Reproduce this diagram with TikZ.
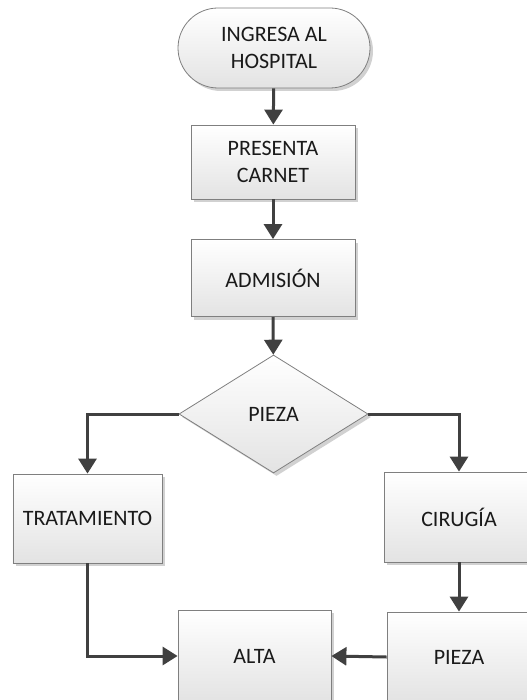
\documentclass[tikz,border=0pt]{standalone}
\usepackage{fontspec}
\setmainfont{Carlito}
\usepackage{tikz}
\usetikzlibrary{shapes.geometric,shapes.misc,shadows,arrows.meta}
\definecolor{linea}{HTML}{404040}
\definecolor{borde}{HTML}{7F7F7F}
\definecolor{texto}{HTML}{1A1A1A}

\begin{document}
\begin{tikzpicture}[x=1bp,y=-1bp,
  caja/.style={shape=rectangle,draw=borde,line width=0.8bp,top color=white,bottom color=black!11,
    drop shadow={shadow xshift=3bp,shadow yshift=-3bp,fill=black!18,opacity=1},
    text=texto,align=center,inner sep=0pt,
    font=\fontsize{22bp}{27bp}\selectfont},
  flecha/.style={draw=linea,line width=3bp,-{Triangle[width=18bp,length=15bp]}}]
\useasboundingbox (0,0) rectangle (527,700);
%[inner sep=0pt]
\path (274,48) node (inicio) [caja,shape=rounded rectangle,minimum width=192bp,minimum height=80bp] {INGRESA AL\\HOSPITAL};
\path (273,162) node (carnet) [caja,minimum width=164bp,minimum height=74bp] {PRESENTA\\CARNET};
\path (273,278) node (admision) [caja,minimum width=164bp,minimum height=77bp] {ADMISIÓN};
\path (273.5,414) node (pieza) [caja,shape=diamond,minimum width=189bp,minimum height=118bp] {PIEZA};

\path (87.5,518.5) node (tratamiento) [caja,minimum width=149bp,minimum height=89bp] {TRATAMIENTO};
\path (459,517) node (cirugia) [caja,minimum width=150bp,minimum height=90bp] {CIRUGÍA};
\path (254.5,656) node (alta) [caja,minimum width=153bp,minimum height=92bp] {ALTA};
\path (459,657) node (pieza2) [caja,minimum width=144bp,minimum height=90bp] {PIEZA};

\draw [flecha] (inicio) to (carnet);
\draw [flecha] (carnet) to (admision);
\draw [flecha] (admision) to (pieza);
\draw [flecha] (pieza.west) -| (tratamiento.north);
\draw [flecha] (pieza.east) -| (cirugia.north);
\draw [flecha] (cirugia) to (pieza2);
\draw [flecha] (tratamiento.south) |- (alta.west);
\draw [flecha] (pieza2.west) to (alta.east);

\end{tikzpicture}
\end{document}
